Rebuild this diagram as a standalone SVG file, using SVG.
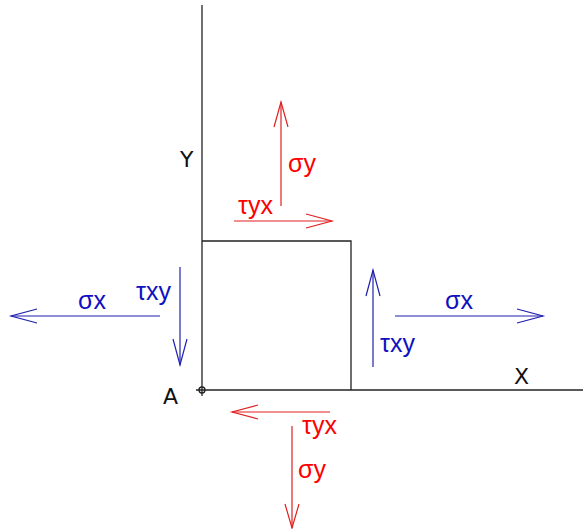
<svg xmlns="http://www.w3.org/2000/svg" width="583" height="529" viewBox="0 0 583 529">
<style>
.ax{stroke:#222;stroke-width:1.3;fill:none}
.r{stroke:#e02020;stroke-width:1.2;fill:none}
.b{stroke:#2020b0;stroke-width:1.2;fill:none}
.lr{fill:#ff0000;font-family:"Liberation Sans",Arial,sans-serif;font-size:25px}
.lb{fill:#1010c0;font-family:"Liberation Sans",Arial,sans-serif;font-size:25px}
.lk{fill:#111;font-family:"DejaVu Sans",sans-serif;font-size:22px}
</style>
<rect width="583" height="529" fill="#fff"/>
<g id="axes">
<line class="ax" x1="202" y1="5" x2="202" y2="396"/>
<line class="ax" x1="196" y1="390" x2="583" y2="390"/>
<circle class="ax" cx="202" cy="390" r="3" stroke-width="1"/>
<text class="lk" x="180" y="167">Y</text>
<text class="lk" x="514" y="384">X</text>
<text class="lk" x="163" y="404">A</text>
</g>
<g id="element">
<polyline class="ax" points="202,241 351,241 351,390"/>
</g>
<g id="connectors">
<g id="sy-top"><line class="r" x1="281" y1="206" x2="281" y2="102"/><polyline class="r" points="274,127 281,102 288,127"/></g>
<g id="tyx-top"><line class="r" x1="234" y1="221" x2="332" y2="221"/><polyline class="r" points="306,214 332,221 306,228"/></g>
<g id="sx-left"><line class="b" x1="160" y1="316" x2="11" y2="316"/><polyline class="b" points="37,309 11,316 37,323"/></g>
<g id="txy-left"><line class="b" x1="180" y1="267" x2="180" y2="365"/><polyline class="b" points="173,339 180,365 187,339"/></g>
<g id="txy-right"><line class="b" x1="373" y1="367" x2="373" y2="270"/><polyline class="b" points="366,296 373,270 380,296"/></g>
<g id="sx-right"><line class="b" x1="395" y1="316" x2="543" y2="316"/><polyline class="b" points="517,309 543,316 517,323"/></g>
<g id="tyx-bottom"><line class="r" x1="330" y1="412" x2="232" y2="412"/><polyline class="r" points="258,405 232,412 258,419"/></g>
<g id="sy-bottom"><line class="r" x1="292" y1="426" x2="292" y2="528"/><polyline class="r" points="285,504 292,528 299,504"/></g>
</g>
<g id="labels">
<text class="lr" x="288" y="172">σy</text>
<text class="lr" x="238" y="214">τyx</text>
<text class="lb" x="78" y="309">σx</text>
<text class="lb" x="136" y="300">τxy</text>
<text class="lb" x="380" y="352">τxy</text>
<text class="lb" x="445" y="309">σx</text>
<text class="lr" x="302" y="434">τyx</text>
<text class="lr" x="298" y="478">σy</text>
</g>
</svg>
